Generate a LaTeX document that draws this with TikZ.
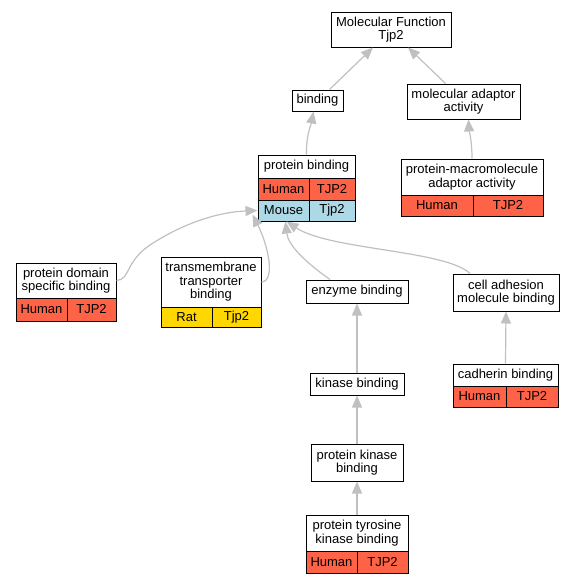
\documentclass[tikz,border=0pt]{standalone}
\usepackage{fontspec}
\setmainfont{Liberation Sans}
\usetikzlibrary{arrows.meta}
\definecolor{Tomato}{HTML}{FF6347}
\definecolor{LightBlue}{HTML}{ADD8E6}
\definecolor{Gold}{HTML}{FFD700}
\definecolor{EdgeGray}{HTML}{C0C0C0}

\begin{document}
\begin{tikzpicture}[
      x = 1pt, y = -1pt,
      font = \fontsize{13}{13.5}\selectfont,
      Term/.style = {draw, fill = white, align = center, inner sep = 0pt, line width = 1pt},
      Cell/.style = {draw, inner sep = 0pt, line width = 1pt, minimum height = 21pt},
      Line/.style = {draw, EdgeGray, line width = 1.2pt, -{Triangle[length = 12pt, width = 10pt]}}
    ]
    \useasboundingbox (0,0) rectangle (576,584);

    \node at (391,29.5) [Term, minimum width = 120pt, minimum height = 35pt](mf){Molecular Function\\Tjp2};
    \node at (317.5,100.5) [Term, minimum width = 51pt, minimum height = 21pt](bind){binding};
    \node at (463.5,101.5) [Term, minimum width = 113pt, minimum height = 35pt](mad){molecular adaptor\\activity};

    % protein binding
    \node at (306.5,166.5) [Term, minimum width = 97pt, minimum height = 23pt](pb){protein binding};
    \node at (283.5,189) [Cell, fill = Tomato, minimum width = 51pt, minimum height = 22pt](pbHs){Human};
    \node at (332,189) [Cell, fill = Tomato, minimum width = 46pt, minimum height = 22pt](pbHg){TJP2};
    \node at (283.5,210.5) [Cell, fill = LightBlue, minimum width = 51pt](pbMs){Mouse};
    \node at (332,210.5) [Cell, fill = LightBlue, minimum width = 46pt](pbMg){Tjp2};

    % protein-macromolecule adaptor activity
    \node at (472,177) [Term, minimum width = 142pt, minimum height = 36pt](pma){protein-macromolecule\\adaptor activity};
    \node at (437,205.5) [Cell, fill = Tomato, minimum width = 72pt](pmaHs){Human};
    \node at (508,205.5) [Cell, fill = Tomato, minimum width = 70pt](pmaHg){TJP2};

    % protein domain specific binding
    \node at (66,280.5) [Term, minimum width = 100pt, minimum height = 35pt](pds){protein domain\\specific binding};
    \node at (41.5,309.5) [Cell, fill = Tomato, minimum width = 51pt, minimum height = 23pt](pdsHs){Human};
    \node at (91.5,309.5) [Cell, fill = Tomato, minimum width = 49pt, minimum height = 23pt](pdsHg){TJP2};

    % transmembrane transporter binding
    \node at (211,282) [Term, minimum width = 100pt, minimum height = 50pt](tmt){transmembrane\\transporter\\binding};
    \node at (186.5,317) [Cell, fill = Gold, minimum width = 51pt, minimum height = 20pt](tmtRs){Rat};
    \node at (236.5,317) [Cell, fill = Gold, minimum width = 49pt, minimum height = 20pt](tmtRg){Tjp2};

    \node at (357,291.5) [Term, minimum width = 102pt, minimum height = 23pt](enz){enzyme binding};
    \node at (506,292.5) [Term, minimum width = 106pt, minimum height = 37pt](cam){cell adhesion\\molecule binding};
    \node at (357,384) [Term, minimum width = 94pt, minimum height = 22pt](kin){kinase binding};

    % cadherin binding
    \node at (505.5,375) [Term, minimum width = 105pt, minimum height = 22pt](cad){cadherin binding};
    \node at (479.5,396.5) [Cell, fill = Tomato, minimum width = 53pt](cadHs){Human};
    \node at (532,396.5) [Cell, fill = Tomato, minimum width = 52pt](cadHg){TJP2};

    \node at (357,462.5) [Term, minimum width = 92pt, minimum height = 37pt](pkb){protein kinase\\binding};

    % protein tyrosine kinase binding
    \node at (357,533) [Term, minimum width = 102pt, minimum height = 36pt](ptk){protein tyrosine\\kinase binding};
    \node at (331.5,562) [Cell, fill = Tomato, minimum width = 51pt, minimum height = 22pt](ptkHs){Human};
    \node at (382.5,562) [Cell, fill = Tomato, minimum width = 51pt, minimum height = 22pt](ptkHg){TJP2};

    \path [Line] ([xshift = 12pt]bind.north) -- ([xshift = -18pt]mf.south);
    \path [Line] ([xshift = -18pt]mad.north) -- ([xshift = 17pt]mf.south);
    \path [Line] (pb.north) .. controls (306,135) and (311,125) .. ([xshift = -4pt]bind.south);
    \path [Line] (pma.north) .. controls (472,140) and (469,130) .. ([xshift = 5pt]mad.south);

    \path [Line] (pds.east) .. controls (130,280) and (125,262) .. (150,245)
                 .. controls (185,222) and (220,212) .. (pbMs.west);
    \path [Line] (tmt.east) .. controls (276,281) and (268,245) .. ([xshift = -5pt, yshift = 7pt]pbMs.south west);
    \path [Line] ([xshift = -27pt]enz.north) .. controls (305,262) and (288,245) .. ([xshift = 2pt]pbMs.south);
    \path [Line] ([xshift = -36pt]cam.north) .. controls (445,250) and (330,250) .. ([xshift = 3pt]pbMs.south);

    \path [Line] (kin.north) -- (enz.south);
    \path [Line] (cad.north) -- (cam.south);
    \path [Line] (pkb.north) -- (kin.south);
    \path [Line] (ptk.north) -- (pkb.south);
  \end{tikzpicture}
\end{document}
